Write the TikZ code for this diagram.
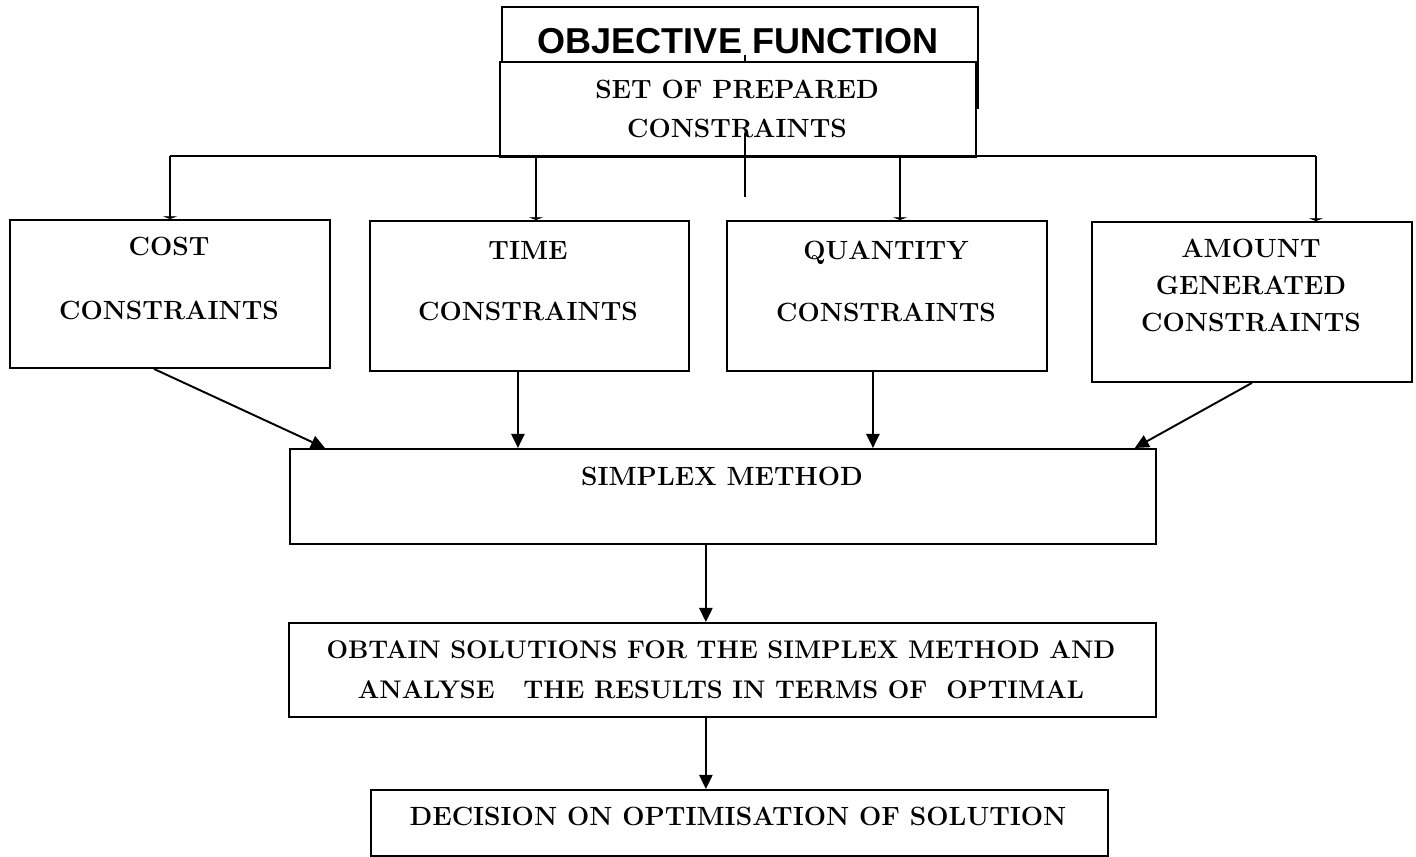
\documentclass[tikz,border=0pt]{standalone}
\usepackage{fontspec}
\newfontfamily\objfont{Liberation Sans}
\usetikzlibrary{arrows.meta}

\begin{document}
\begin{tikzpicture}[x=0.02cm,y=-0.02cm,
  frame/.style={draw,line width=1.1pt,inner sep=0pt,anchor=north west},
  lbl/.style={anchor=north,inner sep=0pt,align=center,font=\fontsize{15}{21}\selectfont\bfseries},
  link/.style={line width=1.1pt},
  tee/.style={link,-{Triangle[length=1.5pt,width=8pt]}},
  arr/.style={link,-{Triangle[length=8pt,width=7.5pt]}}]
  \useasboundingbox (0,0) rectangle (1416,856);

  % top: objective function behind the prepared constraints
  \node[frame,minimum width=9.52cm,minimum height=2.02cm] (obj) at (501,6) {};
  \node[lbl,font=\objfont\fontsize{20.5}{24}\selectfont\bfseries] (objtxt) at (738,28) {OBJECTIVE FUNCTION};
  \coordinate (stubA) at (745,55);
  \coordinate (stubB) at (745,61);
  \draw[link] (stubA) -- (stubB);
  \node[frame,fill=white,minimum width=9.52cm,minimum height=1.9cm] (prep) at (499,61) {};
  \node[lbl] (preptxt) at (737,80) {SET OF PREPARED\\[1pt]CONSTRAINTS};
  \coordinate (stubC) at (745,133);
  \coordinate (stubD) at (745,197);
  \draw[link] (stubC) -- (stubD);

  % constraint boxes
  \node[frame,minimum width=6.4cm,minimum height=2.96cm] (cost) at (9,219) {};
  \node[lbl] (costtxt) at (169,237) {COST\\[15pt]CONSTRAINTS};
  \node[frame,minimum width=6.38cm,minimum height=3cm] (time) at (369,220) {};
  \node[lbl] (timetxt) at (528,241) {TIME\\[14pt]CONSTRAINTS};
  \node[frame,minimum width=6.4cm,minimum height=3cm] (quant) at (726,220) {};
  \node[lbl] (quanttxt) at (886,241) {QUANTITY\\[14pt]CONSTRAINTS};
  \node[frame,minimum width=6.4cm,minimum height=3.2cm] (amount) at (1091,221) {};
  \node[lbl] (amounttxt) at (1251,239) {AMOUNT\\GENERATED\\CONSTRAINTS};

  % bus under the prepared constraints
  \coordinate (busL) at (170,156);
  \coordinate (busT) at (536,156);
  \coordinate (busQ) at (900,156);
  \coordinate (busR) at (1316,156);
  \draw[link] (busL) -- (busR);
  \draw[tee] (busL) -- (busL |- cost.north);
  \draw[tee] (busT) -- (busT |- time.north);
  \draw[tee] (busQ) -- (busQ |- quant.north);
  \draw[tee] (busR) -- (busR |- amount.north);

  % lower chain
  \node[frame,minimum width=17.32cm,minimum height=1.9cm] (simplex) at (289,448) {};
  \node[lbl] (simplextxt) at (722,467) {SIMPLEX METHOD};
  \node[frame,minimum width=17.34cm,minimum height=1.88cm] (obtain) at (288,622) {};
  \node[lbl,font=\fontsize{14.5}{21}\selectfont\bfseries] (obtaintxt) at (721,640) {OBTAIN SOLUTIONS FOR THE SIMPLEX METHOD AND\\[2pt]ANALYSE\ \ \ THE RESULTS IN TERMS OF\ \ OPTIMAL};
  \node[frame,minimum width=14.74cm,minimum height=1.32cm] (decision) at (370,789) {};
  \node[lbl] (decisiontxt) at (738,807) {DECISION ON OPTIMISATION OF SOLUTION};

  \draw[arr] ([xshift=-0.32cm]cost.south) -- ([xshift=0.72cm]simplex.north west);
  \draw[arr] ([xshift=-0.23cm]time.south) -- ([xshift=-0.23cm]time.south |- simplex.north);
  \draw[arr] ([xshift=-0.28cm]quant.south) -- ([xshift=-0.28cm]quant.south |- simplex.north);
  \draw[arr] (amount.south) -- ([xshift=-0.44cm]simplex.north east);
  \draw[arr] ([xshift=-0.34cm]simplex.south) -- ([xshift=-0.34cm]simplex.south |- obtain.north);
  \draw[arr] ([xshift=-0.34cm]simplex.south |- obtain.south) -- ([xshift=-0.34cm]simplex.south |- decision.north);
\end{tikzpicture}
\end{document}
